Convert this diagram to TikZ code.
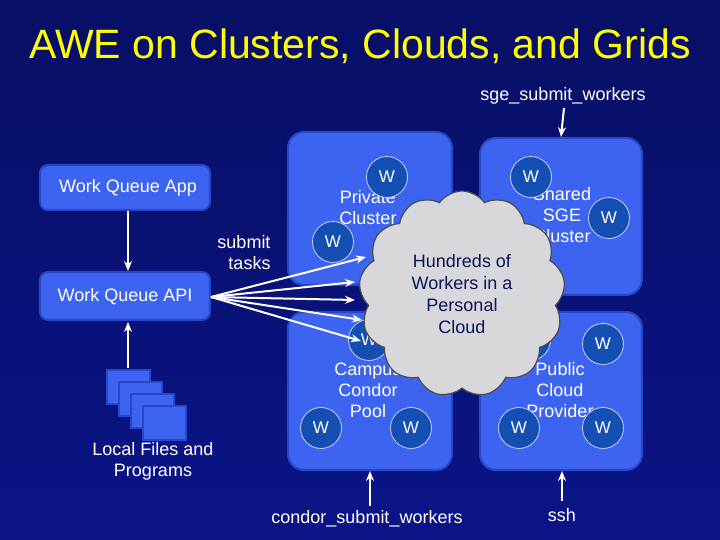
\documentclass[tikz,border=0pt]{standalone}
\usepackage{fontspec}
\setmainfont{Liberation Sans}
\usetikzlibrary{shapes.symbols,arrows.meta}
\definecolor{bg}{RGB}{10,20,135}
\definecolor{boxc}{RGB}{60,100,240}
\definecolor{boxb}{RGB}{40,70,200}
\definecolor{wc}{RGB}{20,80,180}
\definecolor{ttl}{RGB}{255,255,0}
\definecolor{cl}{RGB}{215,215,220}
\definecolor{ctext}{RGB}{10,20,90}
\begin{document}
\begin{tikzpicture}[x=0.5pt,y=-0.5pt,
  box/.style={fill=boxc,draw=boxb,line width=1pt,rounded corners=8pt},
  sbox/.style={fill=boxc,draw=boxb,line width=1pt,rounded corners=4pt},
  wn/.style={circle,fill=wc,draw=white!80!blue,line width=0.4pt,minimum size=20.5pt,inner sep=0pt,text=white,font=\fontsize{8.5}{9}\selectfont},
  lbl/.style={text=white,font=\fontsize{9}{10.5}\selectfont,align=center},
  arr/.style={white,line width=1pt,-{Stealth[length=5pt,width=4pt]}},
  file/.style={fill=boxc,draw=boxb,line width=1.2pt}]
\shade[top color=bg!75!black,bottom color=bg] (0,0) rectangle (720,540);
\useasboundingbox (0,0) rectangle (720,540);
\node[text=ttl,font=\fontsize{20.5}{22}\selectfont] (title) at (360,46) {AWE on Clusters, Clouds, and Grids};
% left boxes
\draw[sbox] (40,165) rectangle (210,210);
\node[lbl] (app) at (128,188) {Work Queue App};
\draw[sbox] (40,272) rectangle (210,320);
\node[lbl] (api) at (125,297) {Work Queue API};
\coordinate (appb) at (128,211);
\coordinate (apit) at (128,271);
\coordinate (apib) at (128,322);
\coordinate (apir) at (211,297);
\draw[arr] (appb) -- (apit);
% files
\draw[file] (107,370) rectangle (150,404);
\draw[file] (119,382) rectangle (162,416);
\draw[file] (131,394) rectangle (174,428);
\draw[file] (143,406) rectangle (186,440);
\coordinate (filet) at (128,368);
\draw[arr] (filet) -- (apib);
\node[lbl] (files) at (153,461) {Local Files and\\Programs};
\node[lbl,align=right] (sub) at (244,253) {submit\\tasks};
% cluster boxes
\draw[box] (288,132) rectangle (452,285);
\draw[box] (480,138) rectangle (642,295);
\draw[box] (288,312) rectangle (452,470);
\draw[box] (480,312) rectangle (642,470);
\node[lbl] (priv) at (368,208) {Private\\Cluster};
\node[lbl] (sge) at (562,215) {Shared\\SGE\\Cluster};
\node[lbl] (campus) at (368,390) {Campus\\Condor\\Pool};
\node[lbl] (pub) at (560,390) {Public\\Cloud\\Provider};
\node[wn] (w1) at (387,177) {W};
\node[wn] (w2) at (333,242) {W};
\node[wn] (w3) at (531,177) {W};
\node[wn] (w4) at (609,218) {W};
\node[wn] (w5) at (369,340) {W};
\node[wn] (w6) at (530,340) {W};
\node[wn] (w7) at (603,344) {W};
\node[wn] (w8) at (321,428) {W};
\node[wn] (w9) at (411,428) {W};
\node[wn] (w10) at (519,428) {W};
\node[wn] (w11) at (603,428) {W};
% cloud
\node[cloud,cloud puffs=13,cloud puff arc=110,aspect=1.0,fill=cl,draw=black!70,line width=0.6pt,minimum width=103pt,minimum height=103pt,text=ctext,font=\fontsize{9}{11}\selectfont,align=center] (cloud) at (462,294) {Hundreds of\\Workers in a\\Personal\\Cloud};
% arrows to cloud
\coordinate (t1) at (366,257);
\coordinate (t2) at (355,282);
\coordinate (t3) at (355,300);
\coordinate (t4) at (362,320);
\coordinate (t5) at (361,341);
\foreach \t in {t1,t2,t3,t4,t5} \draw[arr] (apir) -- (\t);
% bottom/top labels
\node[lbl] (sgesub) at (563,96) {sge\_submit\_workers};
\coordinate (sgea) at (564,108);
\coordinate (sgeb) at (561,137);
\draw[arr] (sgea) -- (sgeb);
\node[lbl] (condsub) at (367,519) {condor\_submit\_workers};
\coordinate (ca) at (370,506);
\coordinate (cb) at (370,471);
\draw[arr] (ca) -- (cb);
\node[lbl] (ssh) at (562,515) {ssh};
\coordinate (sa) at (562,501);
\coordinate (sb) at (562,471);
\draw[arr] (sa) -- (sb);
\end{tikzpicture}
\end{document}
